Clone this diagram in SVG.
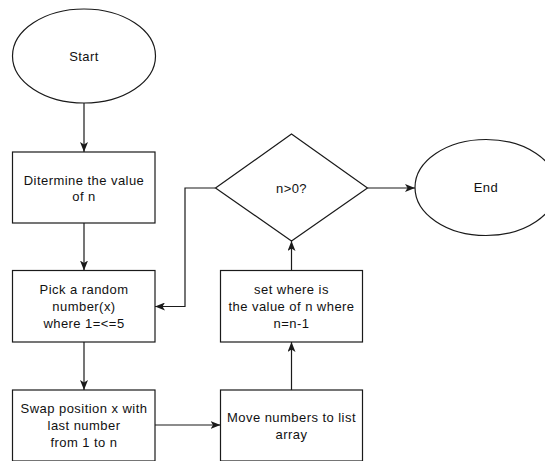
<svg xmlns="http://www.w3.org/2000/svg" width="545" height="461" viewBox="0 0 545 461">
<style>
.shape{fill:#ffffff;stroke:#1a1a1a;stroke-width:1.2}
.edge{fill:none;stroke:#1a1a1a;stroke-width:1.2}
text{font-family:"Liberation Sans",Arial,sans-serif;font-size:13px;fill:#111;text-anchor:middle;letter-spacing:0.45px}
</style>
<defs>
<marker id="arr" viewBox="0 0 10 8" refX="10" refY="4" markerWidth="10" markerHeight="8" markerUnits="userSpaceOnUse" orient="auto">
<path d="M0,0 L10,4 L0,8 L2.5,4 Z" fill="#1a1a1a"/>
</marker>
</defs>
<rect width="545" height="461" fill="#ffffff"/>
<g id="connectors">
<path class="edge" d="M84,103 V152" marker-end="url(#arr)"/>
<path class="edge" d="M84,223 V270.5" marker-end="url(#arr)"/>
<path class="edge" d="M84,342 V390" marker-end="url(#arr)"/>
<path class="edge" d="M155,425 H220.5" marker-end="url(#arr)"/>
<path class="edge" d="M291.5,390 V342" marker-end="url(#arr)"/>
<path class="edge" d="M291.5,270.5 V241" marker-end="url(#arr)"/>
<path class="edge" d="M367.5,188 H415" marker-end="url(#arr)"/>
<path class="edge" d="M215.5,188 H185 V306.5 H155" marker-end="url(#arr)"/>
</g>
<g id="start">
<ellipse class="shape" cx="84" cy="56" rx="71.5" ry="47"/>
<text x="84" y="61">Start</text>
</g>
<g id="determine">
<rect class="shape" x="12.5" y="152" width="142.5" height="71"/>
<text x="84" y="185">Ditermine the value</text>
<text x="84" y="201">of n</text>
</g>
<g id="pick">
<rect class="shape" x="12.5" y="270.5" width="142.5" height="71.5"/>
<text x="84" y="293.5">Pick a random</text>
<text x="84" y="310.5">number(x)</text>
<text x="84" y="327.5">where 1=&lt;=5</text>
</g>
<g id="swap">
<rect class="shape" x="12.5" y="390" width="142.5" height="71"/>
<text x="84" y="412.5">Swap position x with</text>
<text x="84" y="429.5">last number</text>
<text x="84" y="446.5">from 1 to n</text>
</g>
<g id="move">
<rect class="shape" x="220.5" y="390" width="142" height="71"/>
<text x="291.5" y="421.5">Move numbers to list</text>
<text x="291.5" y="438.5">array</text>
</g>
<g id="set">
<rect class="shape" x="220.5" y="270.5" width="142" height="71.5"/>
<text x="291.5" y="293.5">set where is</text>
<text x="291.5" y="310.5">the value of n where</text>
<text x="291.5" y="327.5">n=n-1</text>
</g>
<g id="decision">
<polygon class="shape" points="291.5,134 367.5,188 291.5,241 215.5,188"/>
<text x="291.5" y="192.5">n&gt;0?</text>
</g>
<g id="end">
<ellipse class="shape" cx="486" cy="187.5" rx="71" ry="48"/>
<text x="486" y="192">End</text>
</g>
</svg>
